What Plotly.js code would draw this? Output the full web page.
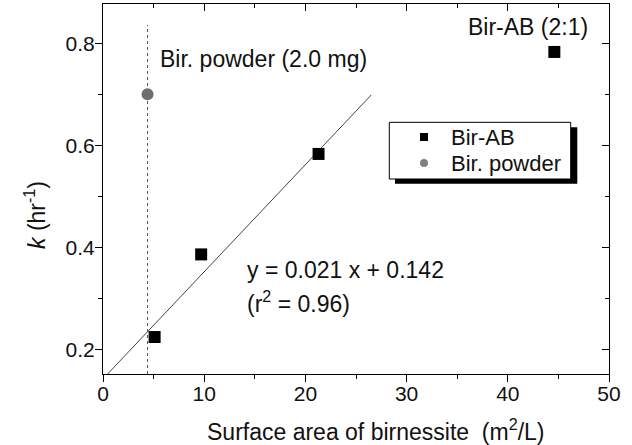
<!DOCTYPE html>
<html>
<head>
<meta charset="utf-8">
<script src="https://cdn.plot.ly/plotly-3.0.1.min.js"></script>
<style>
  html, body { margin: 0; padding: 0; background: #ffffff; }
  #chart { width: 632px; height: 445px; }
</style>
</head>
<body>
<div id="chart"></div>
<script>
// Rate constant k versus surface area of birnessite
const birAB_area = [5.1, 9.7, 21.3, 44.6];        // m2/L
const birAB_k = [0.224, 0.386, 0.583, 0.783];     // hr-1
const powder_area = [4.4];
const powder_k = [0.70];

// Series names shown in the legend box
const seriesNames = ['Bir-AB', 'Bir. powder'];

// Linear fit reported on the chart: y = 0.021 x + 0.142
const fitSlope = 0.021;
const fitIntercept = 0.142;
const fitSpan = [0, 26.5];
const fitK = fitSpan.map(x => fitSlope * x + fitIntercept);

// Dotted reference line at the powder surface area
const powderLineTop = 0.836;

const xTickVals = [0, 10, 20, 30, 40, 50];
const yTickVals = [0.2, 0.4, 0.6, 0.8];

const FONT = 'Liberation Sans, Arial, Helvetica, sans-serif';
const TXT = '#111111';
const xRange = [0, 50];
const yRange = [0.1515, 0.877];

// plot-area geometry in pixels, used to place the legend box and axis titles
const M = { l: 103, r: 23, t: 4, b: 71 };
const W = 632, H = 445;
const PW = W - M.l - M.r, PH = H - M.t - M.b;
const px = v => (v - M.l) / PW;
const py = v => (H - M.b - v) / PH;

const traces = [
  {
    x: [powder_area[0], powder_area[0]], y: [yRange[0], powderLineTop],
    mode: 'lines', line: { color: '#555555', width: 1, dash: 'dot' },
    hoverinfo: 'skip'
  },
  {
    x: fitSpan, y: fitK, mode: 'lines',
    line: { color: '#444444', width: 1 },
    hoverinfo: 'skip'
  },
  {
    x: birAB_area, y: birAB_k, mode: 'markers', name: seriesNames[0],
    marker: { symbol: 'square', size: 12, color: '#000000' },
    cliponaxis: false
  },
  {
    x: powder_area, y: powder_k, mode: 'markers', name: seriesNames[1],
    marker: { symbol: 'circle', size: 12, color: '#6e6e6e' },
    cliponaxis: false
  },
  // frame axes on top / right
  { x: [null], y: [null], xaxis: 'x2', yaxis: 'y2', hoverinfo: 'skip' }
];

const axisBase = {
  showgrid: false, zeroline: false, showline: true,
  linecolor: '#000000', linewidth: 1,
  tickcolor: '#000000', tickwidth: 1, ticklen: 7,
  tickfont: { family: FONT, size: 21, color: TXT }
};

// legend box with drop shadow
const legendShapes = [
  { type: 'rect', xref: 'paper', yref: 'paper',
    x0: px(395), x1: px(577.3), y0: py(183.7), y1: py(127.3),
    fillcolor: '#000000', line: { width: 0 }, layer: 'above' },
  { type: 'rect', xref: 'paper', yref: 'paper',
    x0: px(389.3), x1: px(570.7), y0: py(179), y1: py(122.3),
    fillcolor: '#ffffff', line: { color: '#000000', width: 1 }, layer: 'above' },
  { type: 'rect', xref: 'paper', yref: 'paper',
    x0: px(420), x1: px(428), y0: py(141), y1: py(133),
    fillcolor: '#000000', line: { width: 0 }, layer: 'above' },
  { type: 'circle', xref: 'paper', yref: 'paper',
    x0: px(420), x1: px(428), y0: py(167), y1: py(159),
    fillcolor: '#808080', line: { width: 0 }, layer: 'above' }
];

const legendLabels = [
  { x: px(449), y: py(137), xref: 'paper', yref: 'paper', xanchor: 'left', yanchor: 'middle',
    text: seriesNames[0], showarrow: false, font: { family: FONT, size: 22, color: TXT } },
  { x: px(449), y: py(163), xref: 'paper', yref: 'paper', xanchor: 'left', yanchor: 'middle',
    text: seriesNames[1], showarrow: false, font: { family: FONT, size: 22, color: TXT } }
];

// axis titles, placed as free text
const axisTitles = [
  { x: px(375), y: py(430), xref: 'paper', yref: 'paper', xanchor: 'center', yanchor: 'middle',
    text: 'Surface area of birnessite&nbsp;&nbsp;(m<sup>2</sup>/L)', showarrow: false,
    font: { family: FONT, size: 23, color: TXT } },
  { x: px(35), y: py(215), xref: 'paper', yref: 'paper', xanchor: 'center', yanchor: 'middle',
    text: '<i>k</i> (hr<sup>-1</sup>)', showarrow: false, textangle: -90,
    font: { family: FONT, size: 23, color: TXT } }
];

const layout = {
  width: W, height: H,
  margin: M,
  paper_bgcolor: '#ffffff', plot_bgcolor: '#ffffff',
  font: { family: FONT, color: TXT },
  showlegend: false,
  xaxis: Object.assign({}, axisBase, {
    range: xRange, tickmode: 'array', tickvals: xTickVals,
    ticks: 'outside', ticklabelstandoff: -6,
    minor: { dtick: 5, tick0: 0, ticks: 'outside', ticklen: 4, tickcolor: '#000000' }
  }),
  yaxis: Object.assign({}, axisBase, {
    range: yRange, tickmode: 'array', tickvals: yTickVals,
    ticktext: yTickVals.map(v => v.toFixed(1)),
    ticks: 'outside', ticklabelstandoff: -4,
    minor: { dtick: 0.1, tick0: 0.2, ticks: 'outside', ticklen: 4, tickcolor: '#000000' }
  }),
  xaxis2: Object.assign({}, axisBase, {
    overlaying: 'x', side: 'top', range: xRange, tickmode: 'array', tickvals: xTickVals,
    ticks: 'inside', showticklabels: false,
    minor: { dtick: 5, tick0: 0, ticks: 'inside', ticklen: 4, tickcolor: '#000000' }
  }),
  yaxis2: Object.assign({}, axisBase, {
    overlaying: 'y', side: 'right', range: yRange, tickmode: 'array', tickvals: yTickVals,
    ticks: 'inside', showticklabels: false,
    minor: { dtick: 0.1, tick0: 0.2, ticks: 'inside', ticklen: 4, tickcolor: '#000000' }
  }),
  shapes: legendShapes,
  annotations: [
    { x: 5.42, y: 0.769, xref: 'x', yref: 'y', xanchor: 'left', yanchor: 'middle',
      text: 'Bir. powder (2.0 mg)', showarrow: false, font: { family: FONT, size: 23, color: TXT } },
    { x: 35.9, y: 0.832, xref: 'x', yref: 'y', xanchor: 'left', yanchor: 'middle',
      text: 'Bir-AB (2:1)', showarrow: false, font: { family: FONT, size: 23, color: TXT } },
    { x: 14.05, y: 0.355, xref: 'x', yref: 'y', xanchor: 'left', yanchor: 'middle',
      text: 'y = ' + fitSlope.toFixed(3) + ' x + ' + fitIntercept.toFixed(3), showarrow: false,
      font: { family: FONT, size: 23, color: TXT } },
    { x: 14.05, y: 0.292, xref: 'x', yref: 'y', xanchor: 'left', yanchor: 'middle',
      text: '(r<sup>2</sup> = 0.96)', showarrow: false, font: { family: FONT, size: 23, color: TXT } }
  ].concat(legendLabels, axisTitles)
};

Plotly.newPlot('chart', traces, layout, { displayModeBar: false, staticPlot: true });
</script>
</body>
</html>
